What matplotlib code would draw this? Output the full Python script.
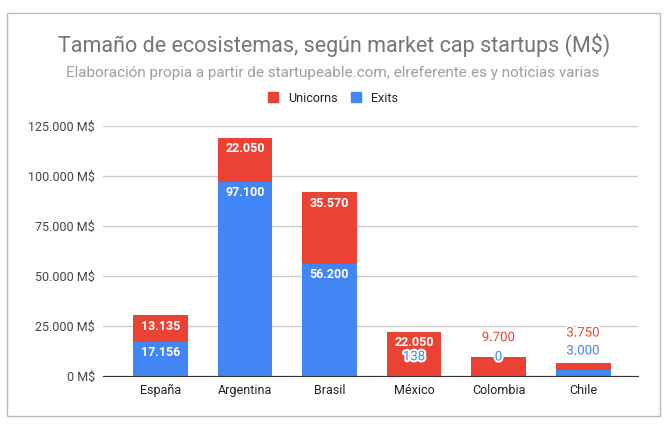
import matplotlib.pyplot as plt
import matplotlib.patheffects as pe
from matplotlib.patches import Patch, Rectangle

plt.rcParams['font.family'] = ['Roboto', 'DejaVu Sans']

paises = ['España', 'Argentina', 'Brasil', 'México', 'Colombia', 'Chile']
exits = [17156, 97100, 56200, 138, 0, 3000]
unicorns = [13135, 22050, 35570, 22050, 9700, 3750]
yticks = [0, 25000, 50000, 75000, 100000, 125000]

red = '#EA4335'
blue = '#4285F4'
PX = 0.72  # points per pixel at dpi 100


def fmt(v):
    return f'{v:,}'.replace(',', '.')


fig = plt.figure(figsize=(6.68, 4.24), dpi=100)
ax = fig.add_axes([103 / 668, 1 - 376 / 424, 535 / 668, 250 / 424])

x = range(len(paises))
ax.bar(x, exits, width=0.65, color=blue, zorder=2)
ax.bar(x, unicorns, width=0.65, bottom=exits, color=red, zorder=2)

ax.set_xlim(-0.68, 5.65)
ax.set_ylim(0, 125000)
ax.set_yticks(yticks)
ax.set_yticklabels([fmt(v) + ' M$' for v in yticks], fontsize=9, color='#444444')
ax.set_xticks(list(x))
ax.set_xticklabels(paises, fontsize=9, color='#222222')
ax.tick_params(length=0, pad=6)
ax.grid(axis='y', color='#cccccc', lw=1, zorder=0)
for s in ['top', 'right', 'left']:
    ax.spines[s].set_visible(False)
ax.spines['bottom'].set_color('#333333')
ax.spines['bottom'].set_zorder(3)

# 1 px in data units
unit = 125000 / 250
halo = [pe.withStroke(linewidth=3, foreground='white')]

for i in range(len(paises)):
    segs = [(exits[i], 0, blue), (unicorns[i], exits[i], red)]
    prev_out = None
    for val, base, col in segs:
        top = base + val
        if val / unit >= 20:
            ax.annotate(fmt(val), xy=(i, top), xytext=(0, -11 * PX), textcoords='offset points',
                        ha='center', va='center', fontsize=9, color='white',
                        fontweight='bold', zorder=4)
        else:
            ypx = top / unit + 19
            if prev_out is not None and ypx < prev_out + 18:
                ypx = prev_out + 18
            prev_out = ypx
            ax.annotate(fmt(val), xy=(i, 0), xytext=(0, ypx * PX), textcoords='offset points',
                        ha='center', va='center', fontsize=9.5, color=col,
                        path_effects=halo, zorder=4)

fig.text(334 / 668, 1 - 45 / 424, 'Tamaño de ecosistemas, según market cap startups (M$)',
         ha='center', va='center', fontsize=15.5, color='#757575')
fig.text(333 / 668, 1 - 73 / 424, 'Elaboración propia a partir de startupeable.com, elreferente.es y noticias varias',
         ha='center', va='center', fontsize=11, color='#9e9e9e')

handles = [Patch(color=red, label='Unicorns'), Patch(color=blue, label='Exits')]
fig.legend(handles=handles, loc='center', bbox_to_anchor=(333 / 668, 1 - 98 / 424), ncol=2,
           frameon=False, fontsize=9, handlelength=0.8, handleheight=0.8,
           handletextpad=0.8, columnspacing=1.0, labelcolor='#222222')

fig.patches.append(Rectangle((7 / 668, 1 - 416 / 424), 653 / 668, 403 / 424,
                             transform=fig.transFigure, fill=False, edgecolor='#bbbbbb', lw=1))

fig.savefig('out.png', dpi=100)
